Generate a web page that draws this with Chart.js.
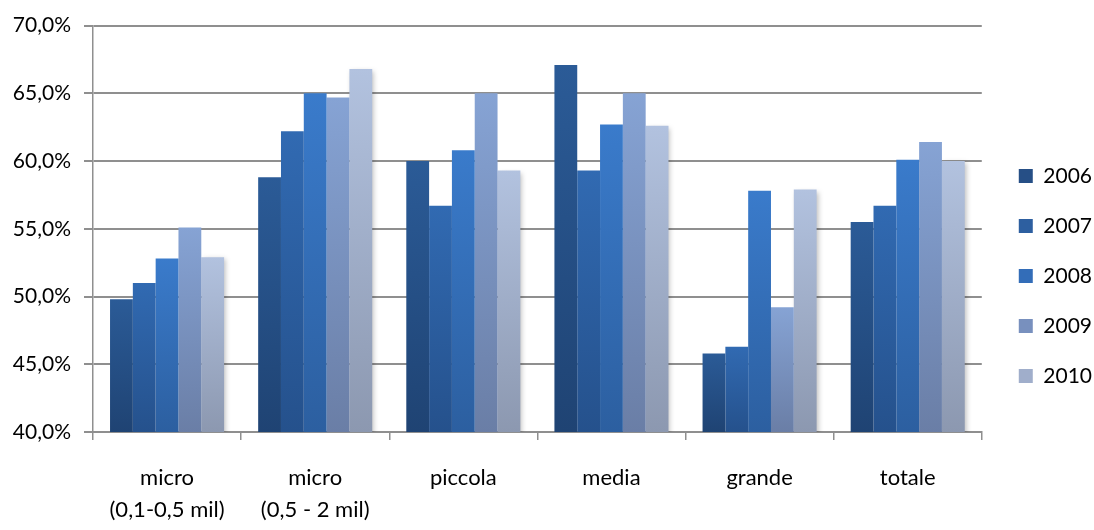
<!DOCTYPE html>
<html>
<head>
<meta charset="utf-8">
<script src="https://cdn.jsdelivr.net/npm/chart.js@4/dist/chart.umd.min.js"></script>
<style>
  html, body { margin: 0; padding: 0; background: #ffffff; }
  #wrap { width: 1094px; height: 530px; position: relative; }
</style>
</head>
<body>
<div id="wrap"><canvas id="c" width="1094" height="530"></canvas></div>
<script>
// Categories (company size classes)
const categories = [
  ['micro', '(0,1-0,5 mil)'],
  ['micro', '(0,5 - 2 mil)'],
  'piccola',
  'media',
  'grande',
  'totale'
];

// Series: one per year, values in percent
const years = ['2006', '2007', '2008', '2009', '2010'];
const v2006 = [49.8, 58.8, 60.0, 67.1, 45.8, 55.5];
const v2007 = [51.0, 62.2, 56.7, 59.3, 46.3, 56.7];
const v2008 = [52.8, 65.0, 60.8, 62.7, 57.8, 60.1];
const v2009 = [55.1, 64.7, 65.0, 65.0, 49.2, 61.4];
const v2010 = [52.9, 66.8, 59.3, 62.6, 57.9, 60.0];
const seriesValues = [v2006, v2007, v2008, v2009, v2010];

// Value axis range and tick step
const yMin = 40, yMax = 70, yStep = 5;

// Bar shading: lighter at the top, darker at the base
const topColors    = ['#2b5b97', '#316ab2', '#3a7bcb', '#86a3d4', '#b2c2df'];
const bottomColors = ['#1f4373', '#25518c', '#2c5fa0', '#6a7ea6', '#8c98b0'];
const legendColors = ['#264f86', '#2d5fa0', '#336db8', '#7890be', '#a0aecb'];

const FONT = 'Lato, "Open Sans", "DejaVu Sans", sans-serif';

function barGradient(ctx, i) {
  const chart = ctx.chart;
  const y = chart.scales && chart.scales.y;
  if (!chart.chartArea || !y || ctx.dataIndex === undefined) return topColors[i];
  const v = seriesValues[i][ctx.dataIndex];
  const y0 = y.getPixelForValue(v);
  const y1 = y.getPixelForValue(yMin);
  if (!isFinite(y0) || !isFinite(y1) || y0 === y1) return topColors[i];
  const g = chart.ctx.createLinearGradient(0, y0, 0, y1);
  g.addColorStop(0, topColors[i]);
  g.addColorStop(1, bottomColors[i]);
  return g;
}

// Soft drop shadow on the right edge of each bar group
const barShadow = {
  id: 'barShadow',
  beforeDatasetDraw(chart, args) {
    const c = chart.ctx;
    c.save();
    if (args.index === years.length - 1) {
      c.shadowColor = 'rgba(0,0,0,0.25)';
      c.shadowBlur = 5;
      c.shadowOffsetX = 2;
      c.shadowOffsetY = 2;
    }
  },
  afterDatasetDraw(chart) {
    chart.ctx.restore();
  }
};

// Nudge the legend a little away from the plot area
const legendOffset = {
  id: 'legendOffset',
  afterLayout(chart) {
    const lg = chart.legend;
    if (lg) { lg.left += 8; lg.right += 8; }
  }
};

const datasets = years.map((yr, i) => ({
  label: yr,
  data: seriesValues[i],
  backgroundColor: (ctx) => barGradient(ctx, i),
  borderWidth: 0,
  categoryPercentage: 0.77,
  barPercentage: 1.0
}));

new Chart(document.getElementById('c'), {
  type: 'bar',
  data: { labels: categories, datasets },
  plugins: [barShadow, legendOffset],
  options: {
    responsive: false,
    animation: false,
    devicePixelRatio: 1,
    layout: { padding: { top: 22, left: 0, right: 0, bottom: 0 } },
    plugins: {
      tooltip: { enabled: false },
      legend: {
        position: 'right',
        align: 'center',
        labels: {
          boxWidth: 14,
          boxHeight: 14,
          padding: 29,
          color: '#000000',
          font: { family: FONT, size: 21 },
          generateLabels(chart) {
            return chart.data.datasets.map((ds, i) => ({
              text: ds.label,
              fillStyle: legendColors[i],
              strokeStyle: legendColors[i],
              lineWidth: 0,
              hidden: false,
              datasetIndex: i
            }));
          }
        }
      }
    },
    scales: {
      x: {
        offset: true,
        grid: {
          offset: true,
          drawOnChartArea: false,
          drawTicks: true,
          tickLength: 8,
          color: '#8f8f8f',
          lineWidth: 1.5
        },
        border: { display: true, color: '#8f8f8f', width: 2 },
        ticks: {
          color: '#000000',
          padding: 22,
          maxRotation: 0,
          autoSkip: false,
          font: { family: FONT, size: 22, lineHeight: 1.45 }
        },
        afterFit(scale) { scale.height = 98; }
      },
      y: {
        min: yMin,
        max: yMax,
        grid: {
          color: '#8f8f8f',
          lineWidth: 2,
          drawTicks: true,
          tickLength: 9
        },
        border: { display: true, color: '#8f8f8f', width: 1.5 },
        ticks: {
          stepSize: yStep,
          padding: 13,
          color: '#000000',
          font: { family: FONT, size: 21 },
          callback: (v) => v.toFixed(1).replace('.', ',') + '%'
        },
        afterFit(scale) { scale.width = 93; }
      }
    }
  }
});
</script>
</body>
</html>
